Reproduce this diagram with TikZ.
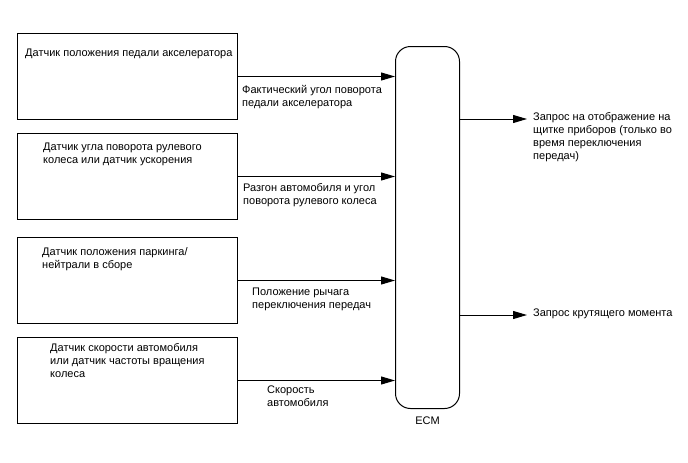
\documentclass[tikz,border=0pt]{standalone}
\usepackage{fontspec}
\setmainfont{Liberation Sans}
\usepackage{tikz}
\usetikzlibrary{positioning, arrows.meta}

\begin{document}
\begin{tikzpicture}[x=1pt, y=-1pt,
    font=\fontsize{11}{13.3}\selectfont,
    sensorbox/.style={draw, line width=1pt, minimum width=220pt,
      minimum height=86pt, inner sep=0pt, anchor=north west},
    boxtext/.style={anchor=base west, align=left, inner sep=0pt},
    sigarrow/.style={line width=1pt, -{Triangle[length=14pt, width=8pt]}}]
    \useasboundingbox (0,0) rectangle (688,463);
    % Sensor boxes
    \node[sensorbox] (pedal) at (17,33) {};
    \node[sensorbox] (steer) at (17,133) {};
    \node[sensorbox] (park)  at (17,237) {};
    \node[sensorbox] (speed) at (17,337) {};
    % ECM block
    \node[draw, line width=1pt, rounded corners=15pt, minimum width=64pt,
      minimum height=362pt, inner sep=0pt, anchor=north west] (ecm) at (395,46) {};
    \node[below=4pt of ecm] (ecmlbl) {ECM};
    % Texts inside boxes (base = last line)
    \node[boxtext] (pedaltxt) at (25,56.5)
      {Датчик положения педали акселератора};
    \node[boxtext] (steertxt) at (43,163.3)
      {Датчик угла поворота рулевого\\колеса или датчик ускорения};
    \node[boxtext] (parktxt)  at (42,268.3)
      {Датчик положения паркинга/\\нейтрали в сборе};
    \node[boxtext] (speedtxt) at (50,377.6)
      {Датчик скорости автомобиля\\или датчик частоты вращения\\колеса};
    % Input signals
    \foreach \src in {pedal, steer, park, speed}
      \draw[sigarrow] (\src.east) -- (\src.east -| ecm.west);
    \node[boxtext] (pedalsig) at (242,106.3)
      {Фактический угол поворота\\педали акселератора};
    \node[boxtext] (steersig) at (243,204.3)
      {Разгон автомобиля и угол\\поворота рулевого колеса};
    \node[boxtext] (parksig)  at (252,308.3)
      {Положение рычага\\переключения передач};
    \node[boxtext] (speedsig) at (267,406.3)
      {Скорость\\автомобиля};
    % Output requests
    \coordinate (dispend)   at (527,119);
    \coordinate (torqueend) at (527,315);
    \draw[sigarrow] (dispend -| ecm.east) -- (dispend);
    \draw[sigarrow] (torqueend -| ecm.east) -- (torqueend);
    \node[boxtext] (disptxt) at (533,159.9)
      {Запрос на отображение на\\щитке приборов (только во\\время переключения\\передач)};
    \node[boxtext] (torquetxt) at (533,316)
      {Запрос крутящего момента};
\end{tikzpicture}
\end{document}
